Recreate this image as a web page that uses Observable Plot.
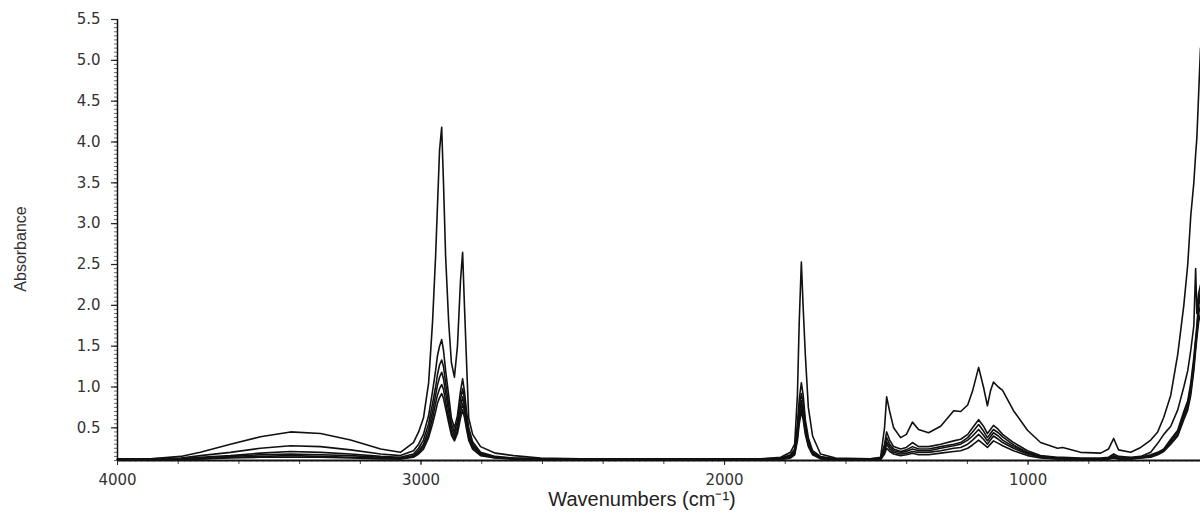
<!DOCTYPE html>
<html><head><meta charset="utf-8">
<script src="https://cdn.jsdelivr.net/npm/d3@7"></script>
<script src="https://cdn.jsdelivr.net/npm/@observablehq/plot@0.6"></script>
<style>html,body{margin:0;padding:0;background:#fff;}</style>
</head><body><div id="chart"></div>
<script>
// Wavenumbers (cm-1), shared by all spectra
const wavenumbers = [4000,3891,3792,3727,3628,3529,3430,3331,3232,3133,
  3068,3025,3008,2992,2975,2962,2952,2946,2939,2932,
  2926,2919,2909,2900,2890,2880,2870,2863,2857,2850,
  2843,2830,2804,2755,2695,2606,2474,2145,1881,1815,
  1783,1769,1760,1754,1747,1741,1734,1724,1710,1684,
  1634,1519,1486,1473,1466,1456,1443,1420,1401,1381,
  1361,1328,1288,1245,1222,1199,1183,1163,1147,1134,
  1124,1114,1098,1084,1048,1002,959,903,886,827,
  761,735,718,702,662,629,596,573,553,530,
  507,487,474,464,454,448,444,438,432];

const absorbance1 = [.12,.12,.15,.2,.3,.39,.45,.43,.35,.24,
  .2,.32,.45,.62,1.05,1.8,2.6,3.2,3.9,4.18,
  3.5,2.6,1.8,1.3,1.12,1.5,2.3,2.65,2.0,1.3,
  .62,.42,.27,.19,.16,.13,.12,.12,.12,.14,
  .2,.3,.9,1.8,2.53,1.97,1.4,.75,.4,.18,
  .13,.12,.14,.5,.88,.7,.5,.38,.42,.57,
  .48,.44,.52,.71,.7,.78,.95,1.24,1.0,.77,
  .95,1.06,1.0,.96,.71,.47,.32,.25,.26,.2,
  .19,.24,.37,.23,.2,.26,.35,.45,.63,.9,
  1.4,2.0,2.5,3.1,3.5,3.85,4.05,4.6,5.15];

const absorbance2 = [.12,.12,.13,.16,.2,.25,.28,.27,.23,.18,
  .16,.22,.3,.42,.65,.95,1.2,1.38,1.5,1.58,
  1.45,1.2,.9,.62,.5,.65,.95,1.1,.95,.7,
  .5,.33,.2,.15,.13,.12,.12,.11,.12,.13,
  .17,.24,.55,.85,1.05,.9,.6,.38,.22,.15,
  .12,.12,.13,.3,.45,.35,.27,.24,.26,.32,
  .27,.27,.3,.34,.36,.42,.5,.6,.52,.43,
  .48,.53,.48,.42,.32,.22,.16,.14,.14,.13,
  .13,.14,.18,.15,.14,.15,.2,.31,.42,.52,
  .72,1.0,1.2,1.45,1.75,2.45,1.9,2.15,2.25];

const absorbance3 = [.11,.11,.12,.14,.16,.19,.21,.2,.18,.15,
  .14,.18,.25,.35,.55,.8,1.0,1.15,1.27,1.33,
  1.25,1.05,.78,.55,.45,.58,.85,.98,.85,.63,
  .45,.3,.19,.14,.13,.12,.11,.11,.11,.12,
  .16,.22,.48,.75,.92,.8,.55,.34,.2,.14,
  .12,.11,.12,.25,.38,.3,.24,.21,.23,.27,
  .24,.24,.27,.3,.32,.38,.45,.54,.46,.38,
  .43,.48,.44,.39,.29,.2,.15,.13,.13,.12,
  .12,.13,.16,.13,.13,.14,.17,.2,.24,.36,
  .47,.7,.83,1.05,1.36,1.6,1.75,2.05,2.18];

const absorbance4 = [.11,.11,.12,.13,.15,.17,.18,.17,.16,.14,
  .13,.16,.22,.3,.48,.7,.9,1.02,1.12,1.18,
  1.1,.93,.7,.5,.41,.52,.76,.88,.77,.57,
  .41,.28,.18,.14,.12,.12,.11,.11,.11,.12,
  .15,.2,.42,.68,.83,.72,.5,.31,.19,.13,
  .12,.11,.12,.22,.33,.27,.22,.2,.21,.24,
  .22,.22,.25,.28,.3,.35,.4,.48,.41,.34,
  .39,.44,.4,.35,.27,.19,.14,.13,.13,.12,
  .12,.12,.15,.13,.13,.14,.16,.19,.23,.34,
  .45,.67,.8,1.0,1.3,1.55,1.7,2.0,2.1];

const absorbance5 = [.11,.11,.11,.12,.14,.15,.16,.15,.14,.13,
  .12,.15,.2,.27,.42,.62,.8,.9,.98,1.03,
  .97,.82,.62,.45,.37,.47,.68,.8,.7,.52,
  .38,.26,.17,.13,.12,.11,.11,.11,.11,.12,
  .14,.18,.38,.6,.77,.66,.46,.29,.18,.13,
  .11,.11,.12,.2,.3,.24,.2,.18,.19,.21,
  .2,.2,.22,.25,.26,.3,.35,.42,.36,.3,
  .35,.4,.36,.32,.25,.18,.14,.12,.12,.12,
  .12,.12,.14,.12,.12,.13,.15,.18,.22,.32,
  .42,.63,.76,.95,1.25,1.5,1.65,1.9,2.0];

const absorbance6 = [.11,.11,.11,.12,.13,.14,.14,.14,.13,.12,
  .12,.14,.18,.24,.38,.55,.7,.8,.87,.92,
  .86,.74,.56,.41,.34,.43,.62,.72,.63,.48,
  .35,.24,.16,.13,.12,.11,.11,.11,.11,.11,
  .13,.17,.34,.55,.7,.6,.42,.27,.17,.12,
  .11,.11,.11,.18,.25,.21,.18,.16,.17,.19,
  .17,.17,.19,.21,.22,.25,.29,.35,.3,.26,
  .3,.34,.31,.28,.22,.16,.13,.12,.12,.11,
  .11,.12,.13,.12,.12,.13,.14,.17,.21,.3,
  .4,.6,.72,.9,1.2,1.45,1.6,1.8,1.9];

const spectra = [absorbance1, absorbance2, absorbance3, absorbance4, absorbance5, absorbance6];

const xTickValues = [4000, 3000, 2000, 1000];
const yTickValues = [0.5, 1.0, 1.5, 2.0, 2.5, 3.0, 3.5, 4.0, 4.5, 5.0, 5.5];
const xTitle = "Wavenumbers (cm⁻¹)";
const yTitle = "Absorbance";

const rows = spectra.flatMap((vals, s) => wavenumbers.map((w, i) => ({w, a: vals[i], s})));
const yMinor = d3.range(0.1, 5.51, 0.05);
const xMinor20 = d3.range(440, 4001, 20);
const xMinor200 = d3.range(600, 4001, 200);

const chart = Plot.plot({
  width: 1200, height: 518,
  marginLeft: 117, marginRight: 0, marginTop: 19, marginBottom: 58,
  style: {background: "#fff", fontFamily: "DejaVu Sans, sans-serif", fontSize: "15px", color: "#333"},
  x: {domain: [4000, 432], axis: null},
  y: {domain: [0.1, 5.5], axis: null},
  marks: [
    Plot.axisY({ticks: yMinor, tickSize: 3, text: null, label: null, strokeWidth: 0.8, stroke: "#444"}),
    Plot.axisY({ticks: yTickValues, tickFormat: d => d.toFixed(1), tickSize: 6, tickPadding: 11, label: null, stroke: "#222", strokeWidth: 1.2}),
    Plot.axisX({ticks: xMinor20, tickSize: 2, text: null, label: null, strokeWidth: 0.6, stroke: "#777"}),
    Plot.axisX({ticks: xMinor200, tickSize: 4, text: null, label: null, stroke: "#444"}),
    Plot.axisX({ticks: xTickValues, tickSize: 5, tickPadding: 9, tickFormat: d => String(d), label: null, stroke: "#222"}),
    Plot.ruleX([4000], {stroke: "#111", strokeWidth: 1.5}),
    Plot.ruleY([0.1], {stroke: "#111", strokeWidth: 2}),
    Plot.line(rows, {x: "w", y: "a", z: "s", stroke: "#111", strokeWidth: 1.6}),
    Plot.text([xTitle], {text: d => d, frameAnchor: "bottom", textAnchor: "middle", dy: 45, dx: -17, fontSize: 20, fontFamily: "Liberation Sans, Arial, sans-serif", fill: "#222"}),
    Plot.text([yTitle], {text: d => d, frameAnchor: "left", textAnchor: "middle", rotate: -90, dx: -97, dy: 9, fontSize: 16, fontFamily: "Liberation Sans, Arial, sans-serif", fill: "#333"})
  ]
});
document.getElementById("chart").appendChild(chart);
</script>
</body></html>
